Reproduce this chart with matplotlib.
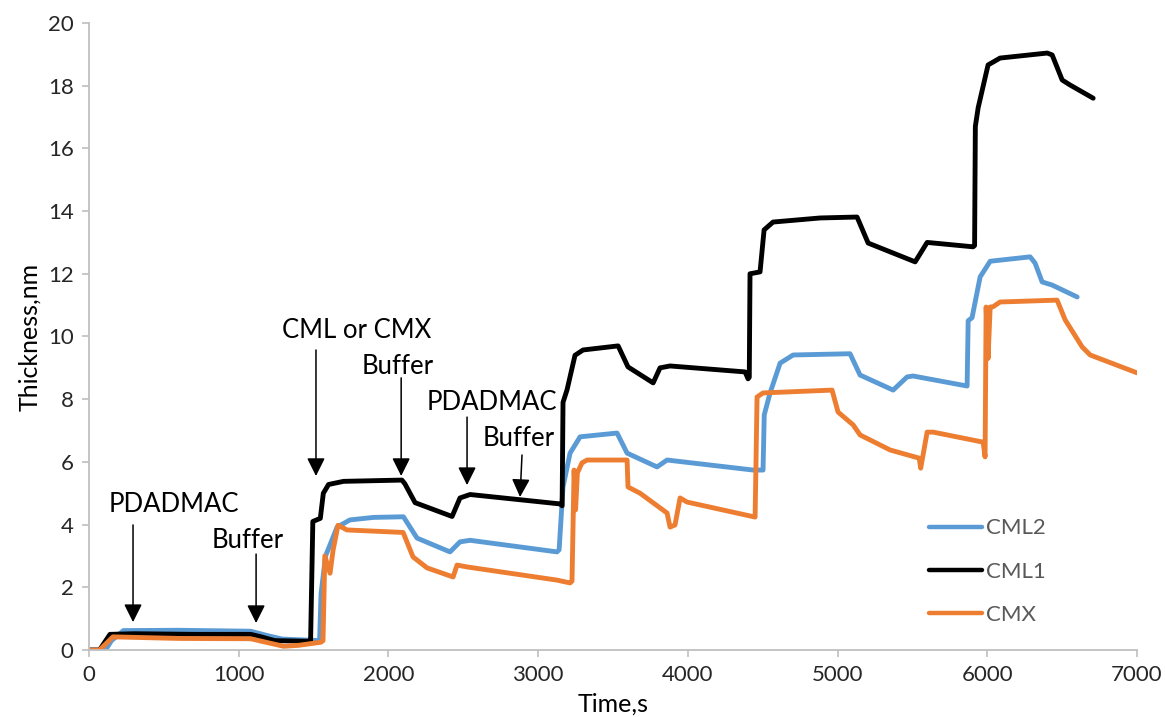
import matplotlib
matplotlib.use("Agg")
import matplotlib.pyplot as plt

plt.rcParams['font.family'] = ['Lato', 'DejaVu Sans']

# Thickness traces (time in s, thickness in nm)
cml2_time = [0, 110, 150, 230, 600, 1080, 1200, 1290, 1540, 1550, 1580, 1657, 1743, 1900,
             2100, 2191, 2411, 2478, 2545, 3126, 3140, 3166, 3213, 3280, 3527, 3594, 3794,
             3861, 4436, 4502, 4510, 4549, 4616, 4703, 5083, 5150, 5371, 5464, 5504, 5865,
             5872, 5898, 5952, 6019, 6286, 6319, 6366, 6433, 6600]
cml2_thick = [0, 0, 0.3, 0.62, 0.63, 0.6, 0.45, 0.35, 0.3, 1.8, 3.0, 3.92, 4.15, 4.23,
              4.25, 3.57, 3.13, 3.45, 3.5, 3.13, 3.2, 5.2, 6.28, 6.8, 6.92, 6.28, 5.84,
              6.06, 5.74, 5.74, 7.5, 8.2, 9.15, 9.41, 9.45, 8.77, 8.29, 8.71, 8.74, 8.42,
              10.5, 10.6, 11.9, 12.4, 12.54, 12.34, 11.74, 11.64, 11.26]

cml1_time = [0, 70, 140, 300, 700, 1080, 1150, 1240, 1470, 1480, 1495, 1545, 1565, 1600,
             1700, 2090, 2110, 2178, 2425, 2478, 2545, 2966, 3146, 3160, 3166, 3193, 3246,
             3300, 3534, 3600, 3768, 3814, 3881, 4382, 4402, 4410, 4415, 4482, 4509, 4569,
             4883, 5130, 5204, 5518, 5598, 5905, 5915, 5920, 5939, 6005, 6085, 6400, 6433,
             6500, 6553, 6707]
cml1_thick = [0, 0, 0.5, 0.52, 0.5, 0.5, 0.42, 0.3, 0.28, 0.3, 4.1, 4.2, 5.0, 5.28,
              5.38, 5.42, 5.3, 4.7, 4.26, 4.85, 4.96, 4.75, 4.66, 4.6, 7.9, 8.3, 9.4,
              9.57, 9.7, 9.03, 8.52, 9.0, 9.06, 8.87, 8.65, 8.7, 12.0, 12.06, 13.4, 13.65,
              13.78, 13.81, 12.98, 12.38, 13.0, 12.86, 12.9, 16.7, 17.3, 18.66, 18.88, 19.04, 18.98,
              18.18, 18.02, 17.6]

cmx_time = [0, 70, 160, 600, 1080, 1180, 1300, 1400, 1550, 1563, 1575, 1610, 1630, 1663,
            1723, 2098, 2164, 2258, 2432, 2458, 2525, 3126, 3213, 3226, 3240, 3250, 3262,
            3293, 3327, 3594, 3600, 3681, 3861, 3881, 3914, 3948, 3994, 4449, 4462, 4502,
            4963, 5003, 5104, 5150, 5351, 5545, 5555, 5598, 5638, 5972, 5985, 5992, 6005,
            6019, 6039, 6085, 6466, 6520, 6633, 6687, 7000]
cmx_thick = [0, 0, 0.42, 0.37, 0.36, 0.25, 0.12, 0.15, 0.25, 0.3, 3.0, 2.45, 3.18, 3.98,
             3.83, 3.75, 2.97, 2.62, 2.33, 2.71, 2.65, 2.23, 2.14, 2.2, 5.74, 4.47, 5.65,
             5.97, 6.06, 6.06, 5.2, 5.0, 4.37, 3.92, 3.99, 4.85, 4.72, 4.24, 8.07, 8.2,
             8.29, 7.59, 7.18, 6.86, 6.38, 6.12, 5.8, 6.95, 6.95, 6.63, 6.16, 10.94, 9.3,
             10.94, 10.95, 11.1, 11.16, 10.53, 9.67, 9.41, 8.84]

series_names = ["CML2", "CML1", "CMX"]
series_colors = ["#5B9BD5", "#000000", "#ED7D31"]

x_ticks = [0, 1000, 2000, 3000, 4000, 5000, 6000, 7000]
y_ticks = [0, 2, 4, 6, 8, 10, 12, 14, 16, 18, 20]

# Injection step labels: (text, text x, text y, arrow tail x, tail y, arrow tip x, tip y)
steps = [
    ("PDADMAC", 568, 4.63, 294, 3.99, 294, 0.89),
    ("Buffer", 1062, 3.5, 1116, 3.06, 1116, 0.86),
    ("CML or CMX", 1790, 10.2, 1516, 9.57, 1516, 5.55),
    ("Buffer", 2065, 9.03, 2085, 8.68, 2085, 5.55),
    ("PDADMAC", 2691, 7.88, 2525, 7.43, 2525, 5.26),
    ("Buffer", 2872, 6.76, 2892, 6.22, 2879, 4.88),
]

fig = plt.figure(figsize=(11.65, 7.17), dpi=100)
ax = fig.add_axes([0.0764, 0.0934, 0.8996, 0.8746])

for t, y, name, c in zip([cml2_time, cml1_time, cmx_time],
                         [cml2_thick, cml1_thick, cmx_thick],
                         series_names, series_colors):
    ax.plot(t, y, color=c, lw=3.5, label=name, solid_joinstyle='round', solid_capstyle='round')

for label, tx, ty, ax0, ay0, ax1, ay1 in steps:
    ax.text(tx, ty, label, ha='center', va='center', fontsize=18.5, color='black')
    ax.annotate("", xy=(ax1, ay1), xytext=(ax0, ay0),
                arrowprops=dict(arrowstyle='-|>,head_length=1.1,head_width=0.55',
                                mutation_scale=10, color='black', lw=1.1,
                                shrinkA=0, shrinkB=0))

ax.set_xlim(0, 7000)
ax.set_ylim(0, 20)
ax.set_xticks(x_ticks)
ax.set_yticks(y_ticks)
ax.tick_params(axis='both', direction='out', length=5, width=1.2, color='#BFBFBF',
               labelsize=16, labelcolor='#262626', pad=6)
for s in ['top', 'right']:
    ax.spines[s].set_visible(False)
for s in ['left', 'bottom']:
    ax.spines[s].set_color('#BFBFBF')
    ax.spines[s].set_linewidth(1.3)

ax.set_xlabel("Time,s", fontsize=18, labelpad=5)
ax.set_ylabel("Thickness,nm", fontsize=18, labelpad=5)

leg = ax.legend(loc='lower left', bbox_to_anchor=(0.782, 0.008), frameon=False,
                fontsize=16, handlelength=2.4, handletextpad=0.2, labelspacing=1.05)
for txt in leg.get_texts():
    txt.set_color('#595959')
for h in leg.get_lines():
    h.set_linewidth(3.2)

fig.savefig("out.png", dpi=100)
